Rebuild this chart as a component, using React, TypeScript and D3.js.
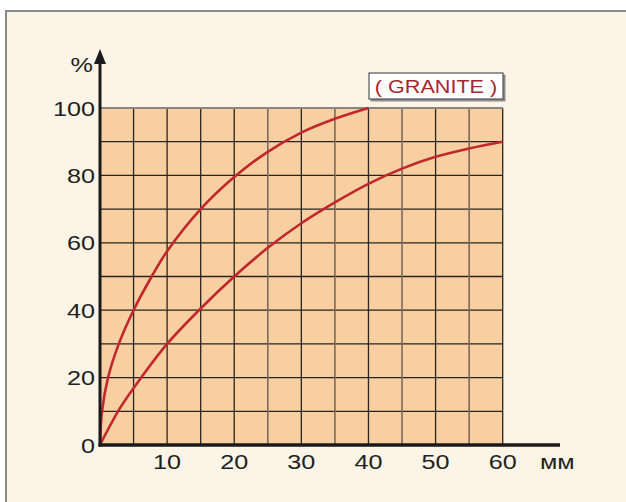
import React from "react";
import * as d3 from "d3";

const xTicks = [10, 20, 30, 40, 50, 60];
const yTicks = [0, 20, 40, 60, 80, 100];
const gridX = [5, 10, 15, 20, 25, 30, 35, 40, 45, 50, 55, 60];
const gridY = [10, 20, 30, 40, 50, 60, 70, 80, 90];
const lightGridX = [25, 35, 45, 55];

const upperX = [0, 0.3, 1.2, 2.8, 5, 7.7, 10, 15, 20, 25, 30, 35, 40];
const upperY = [0, 10, 20, 30, 40, 50, 57.5, 70, 79.5, 87, 92.7, 96.8, 100];
const lowerX = [0, 3, 6.5, 10, 15, 20, 25, 30, 35, 40, 45, 50, 55, 60];
const lowerY = [0, 11, 21, 30, 40.5, 50, 58.5, 65.8, 72, 77.5, 82, 85.5, 88, 90];

const label = "( GRANITE )";
const xUnit = "мм";
const yUnit = "%";

const W = 626;
const H = 502;
const FONT = "'Liberation Sans', Arial, Helvetica, sans-serif";

export default function App() {
  const x = d3.scaleLinear().domain([0, 60]).range([100, 502.7]);
  const y = d3.scaleLinear().domain([0, 100]).range([445, 108]);
  const line = d3
    .line<[number, number]>()
    .x((d) => x(d[0]))
    .y((d) => y(d[1]))
    .curve(d3.curveCatmullRom.alpha(0.5));
  const upper = upperX.map((v, i) => [v, upperY[i]] as [number, number]);
  const lower = lowerX.map((v, i) => [v, lowerY[i]] as [number, number]);
  const textCol = "#231f20";
  const red = "#c1272d";

  const stretched = (tx: number, ty: number, anchor: string, size: number, content: string, fill: string, key?: any) => (
    <text
      key={key}
      transform={`translate(${tx},${ty}) scale(1.2,1)`}
      textAnchor={anchor}
      fontSize={size}
      fontFamily={FONT}
      fill={fill}
    >
      {content}
    </text>
  );

  return (
    <svg width={W} height={H} style={{ position: "absolute", left: 0, top: 0 }}>
      <rect x={0} y={0} width={W} height={H} fill="#ffffff" />
      <rect x={6} y={11} width={W + 20} height={H + 20} fill="#fbf4e7" stroke="#8a8a8a" strokeWidth={2} />
      <rect x={x(0)} y={y(100)} width={x(60) - x(0)} height={y(0) - y(100)} fill="#f8cfa1" />
      {gridY.map((v) => (
        <line key={"gy" + v} x1={x(0)} x2={x(60)} y1={y(v)} y2={y(v)} stroke="#2a2420" strokeWidth={1.3} />
      ))}
      {gridX.map((v) => (
        <line
          key={"gx" + v}
          x1={x(v)}
          x2={x(v)}
          y1={y(0)}
          y2={y(100)}
          stroke={lightGridX.includes(v) ? "#7d6a58" : "#2a2420"}
          strokeWidth={lightGridX.includes(v) ? 1.6 : 1.3}
        />
      ))}
      <line x1={x(0)} x2={x(60)} y1={y(100)} y2={y(100)} stroke="#8a8580" strokeWidth={2} />
      <path d={line(upper) || ""} fill="none" stroke={red} strokeWidth={2.6} />
      <path d={line(lower) || ""} fill="none" stroke={red} strokeWidth={2.6} />
      <line x1={x(0)} x2={x(0)} y1={y(0) + 1.5} y2={60} stroke="#1a1a1a" strokeWidth={3} />
      <path d={`M${x(0)},49 L${x(0) - 6},64 L${x(0) + 6},64 Z`} fill="#1a1a1a" />
      <line x1={x(0) - 1.5} x2={560} y1={y(0)} y2={y(0)} stroke="#1a1a1a" strokeWidth={3.5} />
      {yTicks.map((v) => stretched(95, y(v) + 7.5, "end", 21, String(v), textCol, "yl" + v))}
      {stretched(93, 72, "end", 21, yUnit, textCol)}
      {xTicks.map((v) => stretched(x(v), 469, "middle", 21, String(v), textCol, "xl" + v))}
      {stretched(540, 469, "start", 21, xUnit, textCol)}
      <rect x={370.5} y={74.5} width={135} height={27} fill="#8c8c8c" />
      <rect x={369} y={73} width={134} height={26} fill="#ffffff" stroke="#555" strokeWidth={1.2} />
      {stretched(436, 93, "middle", 18, label, "#a8262e")}
    </svg>
  );
}
